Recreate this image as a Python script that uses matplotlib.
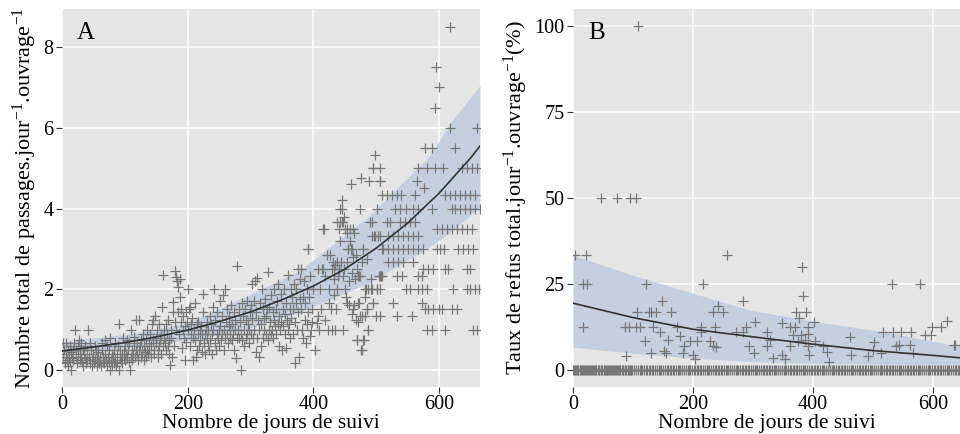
import numpy as np
import matplotlib.pyplot as plt

plt.rcParams['font.family'] = ['Liberation Serif', 'DejaVu Serif']
plt.rcParams['mathtext.fontset'] = 'custom'
plt.rcParams['mathtext.rm'] = 'Liberation Serif'
plt.rcParams['mathtext.it'] = 'Liberation Serif:italic'

# ---- panel A : passages per day (day, rate) ----
a_0_100 = [(1, .67), (2, .33), (3, .5), (4, .2), (5, .17), (6, .4), (7, .67), (8, .25), (9, .1), (10, .5),
           (11, .33), (12, .6), (13, .2), (14, .45), (15, 0), (16, .3), (17, .5), (18, .25), (19, .67), (21, 1.0),
           (22, .5), (23, .33), (24, .17), (25, .6), (26, .4), (27, .75), (28, .25), (29, .5), (30, .67), (31, .33),
           (32, .2), (33, .5), (34, .1), (35, .4), (36, .6), (37, .3), (38, .17), (39, .5), (40, .25), (42, 1.0),
           (43, .33), (44, .17), (45, .67), (46, .5), (47, .25), (48, .1), (49, .4), (50, .33), (51, .17), (52, .6),
           (53, .25), (54, .5), (55, .1), (56, .33), (57, .2), (58, .45), (59, .17), (60, .33), (61, .25), (62, .1),
           (63, .5), (64, .67), (65, .2), (66, .33), (67, .17), (68, .75), (69, .4), (70, .25), (71, .1), (72, .6),
           (73, .33), (74, .5), (75, .2), (76, 0), (77, .8), (78, .25), (79, .4), (80, .1), (81, .33), (82, .5),
           (83, .17), (84, .25), (85, .67), (86, .1), (87, .4), (88, .2), (89, .6), (90, 1.14), (91, 0), (92, .33),
           (93, .5), (94, .25), (95, .4), (96, .17), (97, .8), (98, .33), (99, .5)]
a_100_200 = [(100, .25), (101, .6), (102, .4), (103, .33), (104, .75), (105, .5), (106, .2), (107, .67), (108, 0),
             (109, .33), (110, 1.0), (111, .5), (112, .25), (113, .4), (114, .83), (115, .6), (116, .33), (117, .5),
             (118, 1.24), (119, .67), (120, .4), (121, .25), (122, 1.24), (123, .5), (124, .6), (125, .33), (126, .75),
             (127, .5), (128, .4), (129, .9), (130, .25), (131, .6), (132, .45), (133, .33), (134, .75), (135, .5),
             (136, 1.0), (137, .4), (138, .67), (139, .5), (140, .9), (141, .33), (142, .6), (143, 1.14), (144, .75),
             (145, 1.24), (146, .5), (147, .4), (148, 1.33), (149, .67), (150, .8), (151, 1.0), (152, .5), (153, .33),
             (154, .6), (155, 1.14), (156, .75), (157, .4), (158, .9), (159, 1.57), (160, .6), (161, 2.35), (162, 1.0),
             (163, .8), (164, .67), (165, 1.14), (166, .5), (167, .9), (168, 1.24), (169, .6), (170, .75), (171, .4),
             (172, .12), (173, 1.0), (174, .8), (175, .33), (176, 1.43), (177, 1.69), (178, .6), (179, 1.2),
             (180, 2.46), (181, 1.0), (182, 2.3), (183, 2.2), (184, 1.43), (185, 2.06), (186, .9), (187, 1.8),
             (188, 2.25), (189, 1.2), (190, 1.5), (191, .55), (192, 1.0), (193, 1.33), (194, .8), (195, 1.1),
             (196, .25), (197, 1.43), (198, .7), (199, 1.2)]
a_200_300 = [(200, 2.0), (201, 1.0), (202, 1.5), (203, 1.57), (204, .6), (205, 1.14), (206, .9), (207, 1.29),
             (208, .8), (209, .25), (210, 1.0), (211, 1.67), (212, .75), (213, .33), (214, 1.14), (215, .5), (216, .9),
             (217, 1.2), (218, .6), (219, 1.0), (220, .75), (221, 1.1), (222, .45), (223, .9), (224, 1.43), (225, 1.88),
             (226, .67), (227, .9), (228, .4), (229, 1.0), (230, .8), (231, 1.2), (232, .6), (233, 1.0), (234, .5),
             (235, 1.33), (236, .75), (237, 1.14), (238, .9), (239, .4), (240, 1.57), (241, 1.0), (242, 2.0), (243, .67),
             (244, 1.24), (245, .5), (246, .9), (247, 1.43), (248, .8), (249, 1.0), (250, .6), (251, 1.71), (252, 1.1),
             (253, .75), (254, 1.33), (255, .9), (256, 1.86), (257, .5), (258, 1.0), (259, 2.0), (260, .8), (261, 1.2),
             (262, 1.5), (263, .9), (264, .67), (265, 1.1), (266, 1.33), (267, .8), (268, 1.0), (269, 1.6), (270, .75),
             (271, 1.14), (272, .9), (273, 1.43), (274, .5), (275, 1.25), (276, 1.0), (277, .31), (278, .8),
             (279, 2.58), (280, 1.0), (281, 1.5), (282, .8), (283, 1.2), (284, .9), (285, 0), (286, 1.67), (287, .75),
             (288, 1.33), (289, 1.0), (290, .6), (291, 1.5), (292, .8), (293, 1.25), (294, 1.71), (295, .9),
             (296, 1.14), (297, .67), (298, 1.0), (299, 1.43)]
a_300_400 = [(300, 1.6), (301, .9), (302, 1.29), (303, 2.14), (304, .8), (305, 1.71), (306, 1.0), (307, 2.2),
             (308, .45), (309, 1.43), (310, .8), (311, 2.27), (312, 1.25), (313, .33), (314, 1.0), (315, 1.67),
             (316, .6), (317, 1.14), (318, 2.0), (319, 1.5), (320, .8), (321, 1.29), (322, 1.0), (323, 1.75), (324, .9),
             (325, 1.33), (326, 1.5), (327, .75), (328, 2.43), (329, 1.0), (330, 1.57), (331, 1.2), (332, .9),
             (333, 1.86), (334, 1.0), (335, 1.43), (336, .8), (337, 1.25), (338, 2.0), (339, 1.1), (340, 1.5),
             (341, .9), (342, 1.71), (343, 1.14), (344, 2.14), (345, .6), (346, 1.33), (347, 1.0), (348, 1.88),
             (349, 1.2), (350, .5), (351, 1.5), (352, 1.1), (353, 2.0), (354, .9), (355, 1.4), (356, 1.67), (357, .55),
             (358, 1.25), (359, 1.0), (360, 2.35), (361, 1.14), (362, 1.5), (363, .8), (364, 2.0), (365, 1.29),
             (366, 1.8), (367, .9), (368, 1.5), (369, 2.14), (370, 1.2), (371, .17), (372, 1.67), (373, 2.0),
             (374, 1.0), (375, 1.43), (376, 2.5), (377, .33), (378, 1.75), (379, 2.25), (380, 1.5), (381, 2.5),
             (382, 1.0), (383, 1.8), (384, .8), (385, 2.2), (386, 1.25), (387, 1.67), (388, .67), (389, 2.0),
             (390, 1.14), (391, 3.0), (392, 1.43), (393, 1.8), (394, .85), (395, 2.33), (396, 1.0), (397, 1.2),
             (398, 1.5), (399, 2.0)]
a_400_510 = [(402, .5), (405, 1.17), (407, 1.33), (409, 1.0), (410, 2.0), (412, 1.5), (414, 2.5), (416, 3.5),
             (418, 2.33), (419, 1.25), (421, 2.85), (423, 1.0), (424, 1.67), (425, 2.0), (427, 2.85), (428, 1.5),
             (429, 2.5), (430, 1.0), (431, 2.67), (432, 1.86), (433, 2.25), (434, 1.0), (435, 2.6), (436, 1.5),
             (437, 3.67), (438, 2.0), (439, 2.33), (440, 3.5), (441, 2.5), (442, 4.0), (443, 3.2), (444, 2.67),
             (445, 4.2), (446, 3.67), (447, 1.0), (448, 3.8), (449, 2.5), (450, 3.5), (451, 2.0), (452, 1.8),
             (453, 2.67), (454, 3.4), (455, 3.0), (456, 1.6), (457, 2.2), (458, 3.2), (459, 4.6), (460, 3.0),
             (461, 2.4), (462, 1.4), (463, 2.8), (464, 3.4), (465, 1.6), (466, 2.25), (467, 2.85), (468, 1.25),
             (469, .75), (470, 2.5), (471, 1.2), (472, 2.33), (473, 1.67), (475, 4.75), (476, .5), (477, 2.67),
             (478, 1.33), (479, 3.0), (480, .75), (482, 1.8), (484, 2.0), (485, 1.5), (486, 2.75), (487, 1.0),
             (489, 4.67), (490, 3.67), (491, 2.25), (492, 2.0), (494, 5.0), (495, 1.67), (497, 3.33), (498, 5.33),
             (500, 1.33), (501, 2.0), (503, 3.33), (504, 2.33), (506, 4.67), (507, 2.33), (509, 3.0)]
# right part: values sit on rows (rate, list of days)
a_rows = [(6.0, [617, 660]), (5.5, [577, 589, 625]),
          (5.0, [494, 506, 566, 581, 594, 606, 636, 644, 652, 660]),
          (4.67, [506, 564]), (4.5, [576]),
          (4.33, [509, 517, 525, 533, 540, 562, 609, 617, 625, 633, 641, 649, 657]),
          (4.0, [445, 474, 501, 530, 538, 548, 559, 567, 588, 620, 625, 633, 641, 649, 657, 665]),
          (3.67, [442, 447, 493, 517, 522, 538, 546, 554, 562]),
          (3.5, [417, 453, 458, 463, 597, 604, 612, 620, 628, 636, 644, 652]),
          (3.33, [493, 498, 506, 519, 527, 535, 543, 551, 559, 567]),
          (3.0, [392, 455, 461, 479, 511, 519, 527, 535, 543, 551, 559, 567, 575, 596, 601, 607, 630, 638, 646, 654]),
          (2.67, [437, 519, 527, 535, 543, 559]),
          (2.5, [408, 416, 432, 440, 575, 583, 591, 609, 614, 644, 649]),
          (2.33, [447, 471, 474, 506, 509, 533, 541, 567, 573]),
          (2.0, [482, 487, 493, 501, 506, 548, 554, 567, 573, 581, 622, 644, 649, 657, 663]),
          (1.67, [453, 471, 495, 527, 573]),
          (1.5, [463, 485, 578, 583, 591, 599, 605, 620, 628]),
          (1.33, [474, 482, 506, 533, 557]),
          (1.0, [487, 580, 588, 609, 654, 660]),
          (0.75, [469, 479]), (0.5, [477])]
a_outliers = [(593, 6.5), (595, 7.5), (599, 7.0), (618, 8.5)]

# fitted curve and confidence band, panel A
a_fit_days = [0, 50, 100, 150, 200, 250, 300, 350, 400, 450, 500, 550, 600, 650, 665]
a_fit = [0.47, 0.57, 0.68, 0.82, 0.99, 1.20, 1.44, 1.74, 2.08, 2.50, 3.02, 3.64, 4.38, 5.25, 5.55]
a_band_days = [0, 100, 200, 291, 379, 487, 585, 617, 665]
a_lo = [0.40, 0.55, 0.74, 1.00, 1.44, 2.15, 3.05, 3.40, 4.04]
a_hi = [0.70, 0.88, 1.16, 1.81, 2.47, 3.80, 5.30, 6.10, 7.05]

# ---- panel B : refusal rate (%) ----
b_points = [(109, 100), (46, 50), (73, 50), (95, 50), (105, 50), (3, 33.3), (22, 33.3), (256, 33.3),
            (16, 25), (24, 25), (122, 25), (216, 25), (532, 25), (579, 25), (381, 30), (384, 21.4), (284, 20),
            (148, 20), (242, 18.6), (106, 16.7), (126, 16.7), (130, 16.7), (138, 16.7), (163, 16.7), (234, 16.7),
            (250, 16.7), (372, 16.7), (388, 16.7), (377, 15), (17, 12.5), (87, 12.5), (94, 12.5), (105, 12.5),
            (111, 12.5), (134, 12.5), (173, 12.5), (214, 12.5), (237, 12.5), (289, 12.5), (362, 12.5), (370, 12.5),
            (392, 12.5), (401, 13.8), (303, 13.8), (348, 13.6), (145, 11.1), (213, 11.1), (272, 11.1), (284, 11.1),
            (323, 11.1), (517, 11.1), (534, 11.1), (546, 11.1), (564, 11.1), (587, 10), (596, 10), (598, 12.5),
            (614, 12.5), (623, 14.3), (637, 7.3), (120, 8.3), (159, 8.7), (178, 9.7), (195, 8.3), (206, 8.3),
            (228, 8.3), (234, 6.8), (239, 6.5), (185, 6.8), (184, 4.8), (200, 4.4), (203, 3.1), (89, 3.9),
            (130, 5.0), (151, 5.6), (155, 5.0), (301, 5.0), (294, 6.8), (323, 6.8), (328, 8.7), (334, 3.4),
            (349, 4.4), (353, 3.1), (361, 6.8), (367, 10), (375, 8.3), (380, 10), (386, 8.7), (392, 10.5),
            (392, 6.8), (394, 4.4), (403, 8.3), (417, 6.8), (423, 5.3), (427, 2.2), (461, 9.5), (463, 4.4),
            (492, 3.9), (501, 8.2), (500, 5.8), (514, 5.0), (539, 6.8), (544, 7.3), (562, 7.3), (566, 5.0),
            (635, 7.3)]
b_zero_days = [0, 2, 3, 5, 6, 8, 9, 11, 12, 14, 15, 17, 19, 20, 22, 23, 25, 27, 28, 30, 31, 33, 35, 36, 38,
               39, 41, 43, 44, 46, 47, 49, 51, 52, 54, 55, 57, 59, 60, 62, 63, 65, 67, 68, 70, 71, 73, 75, 76,
               78, 79, 81, 83, 84, 86, 87, 89, 91, 92, 94, 95, 97, 99, 102, 105, 108, 111, 113, 115, 118, 121,
               124, 127, 129, 131, 134, 137, 140, 143, 145, 147, 150, 153, 156, 159, 161, 163, 166, 169, 172,
               175, 177, 179, 182, 185, 188, 191, 193, 195, 198, 201, 204, 207, 209, 211, 214, 217, 220, 223,
               225, 227, 230, 233, 236, 239, 241, 243, 246, 249, 252, 255, 257, 259, 262, 265, 268, 271, 273,
               275, 278, 281, 284, 287, 289, 291, 294, 297, 300, 303, 305, 307, 310, 313, 316, 319, 321, 323,
               326, 329, 332, 335, 337, 339, 342, 345, 348, 351, 353, 355, 358, 361, 364, 367, 369, 371, 374,
               377, 380, 383, 385, 387, 390, 393, 396, 399, 401, 403, 406, 409, 412, 415, 417, 419, 422, 425,
               428, 431, 433, 435, 438, 441, 444, 447, 449, 451, 454, 457, 460, 463, 465, 467, 470, 473, 476,
               479, 481, 483, 486, 489, 492, 495, 497, 499, 502, 505, 508, 511, 513, 515, 518, 521, 524, 527,
               529, 531, 534, 537, 540, 543, 545, 547, 550, 553, 556, 559, 561, 563, 566, 569, 572, 575, 577,
               579, 582, 585, 588, 591, 593, 595, 598, 601, 604, 607, 609, 611, 614, 617, 620, 623, 625, 627,
               630, 633, 636, 639, 641, 643, 646]
b_fit_days = [0, 100, 200, 295, 398, 500, 600, 645]
b_fit = [19.4, 15.2, 11.8, 9.7, 7.5, 5.6, 4.2, 3.5]
b_band_days = [0, 100, 200, 295, 398, 517, 600, 645]
b_lo = [6.6, 4.8, 3.4, 2.4, 1.9, 1.6, 1.5, 1.45]
b_hi = [33.4, 27.5, 22.3, 17.4, 14.2, 11.1, 8.3, 6.8]

# assemble panel A points
a_pts = a_0_100 + a_100_200 + a_200_300 + a_300_400 + a_400_510 + a_outliers
for rate, days in a_rows:
    a_pts += [(d, rate) for d in days]
a_x = [p[0] for p in a_pts]
a_y = [p[1] for p in a_pts]
b_x = [p[0] for p in b_points] + b_zero_days
b_y = [p[1] for p in b_points] + [0] * len(b_zero_days)

BG = '#E5E5E5'
BAND = '#C4D0E0'
PT = '#777777'


def style(ax):
    ax.set_facecolor(BG)
    ax.grid(True, color='white', lw=1.1)
    ax.set_axisbelow(True)
    for s in ax.spines.values():
        s.set_visible(False)
    ax.tick_params(length=4, width=0.8, color='#333333', labelsize=14.5,
                   labelcolor='black', pad=2)


fig = plt.figure(figsize=(9.6, 4.34), dpi=100)
ax_a = fig.add_axes([62 / 960, 47 / 434, 418 / 960, 378 / 434])
ax_b = fig.add_axes([573 / 960, 47 / 434, 387 / 960, 378 / 434])

# panel A
style(ax_a)
ax_a.fill_between(a_band_days, a_lo, a_hi, color=BAND, lw=0, zorder=2)
ax_a.scatter(a_x, a_y, marker='+', s=45, color=PT, linewidths=0.9, zorder=3)
ax_a.plot(a_fit_days, a_fit, color='#333333', lw=1.2, zorder=4)
ax_a.set_xlim(0, 665)
ax_a.set_ylim(-0.42, 8.94)
ax_a.set_xticks([0, 200, 400, 600])
ax_a.set_yticks([0, 2, 4, 6, 8])
ax_a.set_xlabel('Nombre de jours de suivi', fontsize=15.5, labelpad=0)
ax_a.set_ylabel(r'Nombre total de passages.jour$^{-1}$.ouvrage$^{-1}$', fontsize=16, labelpad=3)
ax_a.text(0.036, 0.965, 'A', transform=ax_a.transAxes, fontsize=18, va='top', ha='left')

# panel B
style(ax_b)
ax_b.fill_between(b_band_days, b_lo, b_hi, color=BAND, lw=0, zorder=2)
ax_b.scatter(b_x, b_y, marker='+', s=45, color=PT, linewidths=0.9, zorder=3)
ax_b.plot(b_fit_days, b_fit, color='#333333', lw=1.2, zorder=4)
ax_b.set_xlim(0, 645)
ax_b.set_ylim(-5, 105)
ax_b.set_xticks([0, 200, 400, 600])
ax_b.set_yticks([0, 25, 50, 75, 100])
ax_b.set_xlabel('Nombre de jours de suivi', fontsize=15.5, labelpad=0)
ax_b.set_ylabel(r'Taux de refus total.jour$^{-1}$.ouvrage$^{-1}$(%)', fontsize=16, labelpad=3)
ax_b.text(0.039, 0.965, 'B', transform=ax_b.transAxes, fontsize=18, va='top', ha='left')

fig.savefig('out.png', dpi=100)
